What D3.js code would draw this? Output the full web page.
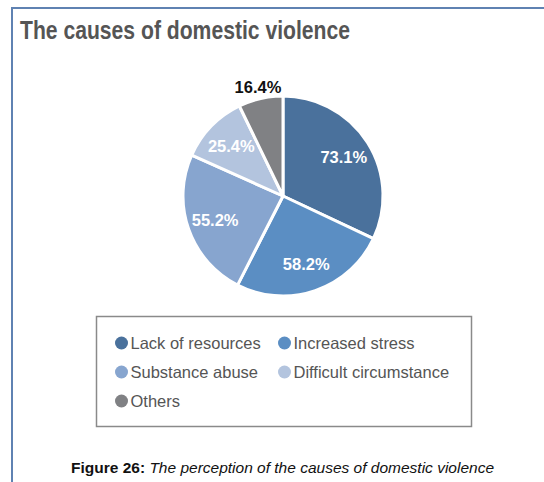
<!DOCTYPE html>
<html>
<head>
<meta charset="utf-8">
<script src="https://cdn.jsdelivr.net/npm/d3@7"></script>
<style>
  html, body { margin: 0; padding: 0; background: #fff; }
  svg { display: block; }
</style>
</head>
<body>
<svg id="chart" width="544" height="482"></svg>
<script>
const categories = ["Lack of resources", "Increased stress", "Substance abuse", "Difficult circumstance", "Others"];
const values = [73.1, 58.2, 55.2, 25.4, 16.4];
const valueLabels = ["73.1%", "58.2%", "55.2%", "25.4%", "16.4%"];
const colors = ["#4a719c", "#5b8ec3", "#87a5cf", "#b3c4de", "#808184"];

const svg = d3.select("#chart");

// outer frame (top and left)
svg.append("path")
  .attr("d", "M12,482 L12,8 L544,8")
  .attr("fill", "none")
  .attr("stroke", "#5f82b2")
  .attr("stroke-width", 2);

// title
svg.append("text")
  .attr("x", 20).attr("y", 39)
  .attr("font-family", "'Liberation Sans Narrow', 'Arial Narrow', 'Liberation Sans', sans-serif")
  .attr("font-weight", "bold")
  .attr("font-size", 25)
  .attr("fill", "#555")
  .attr("textLength", 330)
  .attr("lengthAdjust", "spacingAndGlyphs")
  .text("The causes of domestic violence");

// pie
const cx = 283, cy = 196, r = 100;
const data = categories.map((c, i) => ({ name: c, value: values[i], label: valueLabels[i], color: colors[i] }));
const pie = d3.pie().value(d => d.value).sort(null);
const arcs = pie(data);
const arc = d3.arc().innerRadius(0).outerRadius(r);
const labelArc = d3.arc().innerRadius(r * 0.72).outerRadius(r * 0.72);
const outerArc = d3.arc().innerRadius(r * 1.12).outerRadius(r * 1.12);

const g = svg.append("g").attr("transform", `translate(${cx},${cy})`);
g.selectAll("path.slice")
  .data(arcs)
  .enter().append("path")
  .attr("class", "slice")
  .attr("d", arc)
  .attr("fill", d => d.data.color)
  .attr("stroke", "#fff")
  .attr("stroke-width", 3)
  .attr("stroke-linejoin", "round");

g.selectAll("text.lbl")
  .data(arcs)
  .enter().append("text")
  .attr("class", "lbl")
  .attr("transform", (d, i) => {
    const p = i === arcs.length - 1 ? outerArc.centroid(d) : labelArc.centroid(d);
    return `translate(${p[0]},${p[1]})`;
  })
  .attr("text-anchor", "middle")
  .attr("dy", "0.35em")
  .attr("font-family", "'Liberation Sans', Arial, sans-serif")
  .attr("font-weight", "bold")
  .attr("font-size", 16.5)
  .attr("fill", (d, i) => i === arcs.length - 1 ? "#111" : "#fff")
  .text(d => d.data.label);

// legend box
svg.append("rect")
  .attr("x", 96.5).attr("y", 316.5)
  .attr("width", 375).attr("height", 110)
  .attr("fill", "#fff")
  .attr("stroke", "#8a8a8a")
  .attr("stroke-width", 1.5);

const colX = [121.5, 284.5];
const rowY = [343, 372, 401];
const lg = svg.append("g");
data.forEach((d, i) => {
  const x = colX[i % 2], y = rowY[Math.floor(i / 2)];
  lg.append("circle").attr("cx", x).attr("cy", y).attr("r", 6.5).attr("fill", d.color);
  lg.append("text")
    .attr("x", x + 9).attr("y", y)
    .attr("dy", "0.35em")
    .attr("font-family", "'Liberation Sans', Arial, sans-serif")
    .attr("font-size", 16.5)
    .attr("fill", "#555")
    .text(d.name);
});

// caption
const cap = svg.append("text")
  .attr("x", 282.5).attr("y", 473)
  .attr("text-anchor", "middle")
  .attr("font-family", "'Liberation Sans', Arial, sans-serif")
  .attr("font-size", 15.5)
  .attr("fill", "#111");
cap.append("tspan").attr("font-weight", "bold").text("Figure 26: ");
cap.append("tspan").attr("font-style", "italic").text("The perception of the causes of domestic violence");
</script>
</body>
</html>
